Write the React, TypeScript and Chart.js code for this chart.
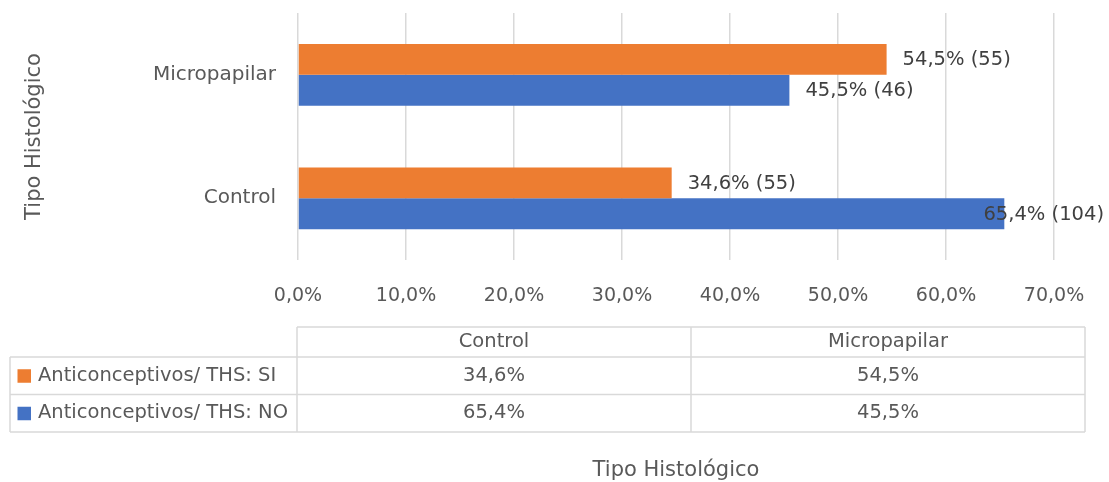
import React, { useEffect, useRef } from "react";
import { Chart, registerables } from "chart.js";

Chart.register(...registerables);

// ---- data ----
const categories = ["Control", "Micropapilar"];
const seriesNames = ["Anticonceptivos/ THS: SI", "Anticonceptivos/ THS: NO"];
const siValues = [34.6, 54.5];
const noValues = [65.4, 45.5];
const siCounts = [55, 55];
const noCounts = [104, 46];
const xMin = 0;
const xMax = 70;
const xStep = 10;
const axisTitle = "Tipo Histológico";
const seriesColors = ["#ED7D31", "#4472C4"];

const FONT = "'DejaVu Sans', sans-serif";
const TEXT = "#595959";
const LINE = "#d9d9d9";

const pct = (v: number) => v.toFixed(1).replace(".", ",") + "%";

export default function App() {
  const ref = useRef<HTMLCanvasElement | null>(null);

  useEffect(() => {
    document.body.style.margin = "0";
    const canvas = ref.current;
    if (!canvas) return;

    // chart draws top-to-bottom: Micropapilar first
    const order = categories.map((_, i) => i).reverse();
    const labels = order.map((i) => categories[i]);
    const values = [siValues, noValues];
    const counts = [siCounts, noCounts];

    const dataLabelPlugin = {
      id: "barLabels",
      afterDatasetsDraw(chart: any) {
        const ctx = chart.ctx;
        ctx.save();
        ctx.font = `19.5px ${FONT}`;
        ctx.fillStyle = "#404040";
        ctx.textAlign = "left";
        ctx.textBaseline = "middle";
        chart.data.datasets.forEach((ds: any, di: number) => {
          const meta = chart.getDatasetMeta(di);
          meta.data.forEach((bar: any, j: number) => {
            const ci = order[j];
            const text = `${pct(values[di][ci])} (${counts[di][ci]})`;
            const w = ctx.measureText(text).width;
            let x = bar.x + 16;
            if (x + w > chart.width - 5) x = chart.width - 5 - w;
            ctx.fillText(text, x, bar.y + 1);
          });
        });
        ctx.restore();
      },
    };

    const tablePlugin = {
      id: "dataTable",
      afterDraw(chart: any) {
        const ctx = chart.ctx;
        const ca = chart.chartArea;
        const left = 10;
        const c0 = ca.left - 1;
        const right = chart.width - 24;
        const colW = (right - c0) / categories.length;
        const h0 = ca.bottom + 67;
        const h1 = h0 + 30;
        const rowH = 37.5;
        const rows = seriesNames.length;
        const hEnd = h1 + rowH * rows;

        ctx.save();
        ctx.strokeStyle = LINE;
        ctx.lineWidth = 1.5;
        ctx.beginPath();
        ctx.moveTo(c0, h0);
        ctx.lineTo(right, h0);
        for (let r = 0; r <= rows; r++) {
          const y = h1 + rowH * r;
          ctx.moveTo(left, y);
          ctx.lineTo(right, y);
        }
        ctx.moveTo(left, h1);
        ctx.lineTo(left, hEnd);
        for (let c = 0; c <= categories.length; c++) {
          const x = c0 + colW * c;
          ctx.moveTo(x, h0);
          ctx.lineTo(x, hEnd);
        }
        ctx.stroke();

        ctx.font = `19.5px ${FONT}`;
        ctx.fillStyle = TEXT;
        ctx.textBaseline = "middle";
        ctx.textAlign = "center";
        categories.forEach((cat, c) => {
          ctx.fillText(cat, c0 + colW * (c + 0.5), (h0 + h1) / 2);
        });
        seriesNames.forEach((name, r) => {
          const yc = h1 + rowH * (r + 0.5);
          ctx.fillStyle = seriesColors[r];
          ctx.fillRect(17.5, yc - 6.5, 13.5, 13.5);
          ctx.fillStyle = TEXT;
          ctx.textAlign = "left";
          ctx.fillText(name, 38, yc);
          ctx.textAlign = "center";
          categories.forEach((_, c) => {
            ctx.fillText(pct(values[r][c]), c0 + colW * (c + 0.5), yc);
          });
        });
        ctx.restore();
      },
    };

    const chart = new Chart(canvas, {
      type: "bar",
      data: {
        labels,
        datasets: seriesNames.map((name, di) => ({
          label: name,
          data: order.map((i) => values[di][i]),
          backgroundColor: seriesColors[di],
          borderWidth: 0,
          categoryPercentage: 0.5,
          barPercentage: 1,
        })),
      },
      options: {
        indexAxis: "y",
        responsive: false,
        animation: false,
        devicePixelRatio: 1,
        layout: { padding: { top: 13, right: 55, left: 0, bottom: 0 } },
        plugins: {
          legend: { display: false },
          tooltip: { enabled: false },
        },
        scales: {
          x: {
            min: xMin,
            max: xMax,
            border: { display: false },
            grid: { color: LINE, lineWidth: 1.5, drawTicks: false },
            ticks: {
              stepSize: xStep,
              padding: 25,
              color: TEXT,
              font: { family: FONT, size: 19 },
              callback: (v: any) => pct(Number(v)),
            },
            title: {
              display: true,
              text: axisTitle,
              color: TEXT,
              font: { family: FONT, size: 21, lineHeight: 1.1 },
              padding: { top: 0, bottom: 0 },
            },
            afterFit: (scale: any) => {
              scale.height = 222;
              scale.paddingLeft = 0;
              scale.paddingRight = 0;
            },
          },
          y: {
            border: { display: false },
            grid: { display: false, drawTicks: false },
            ticks: {
              padding: 22,
              color: TEXT,
              font: { family: FONT, size: 20 },
            },
            title: {
              display: true,
              text: axisTitle,
              color: TEXT,
              font: { family: FONT, size: 21, lineHeight: 1.2 },
              padding: { top: 22, bottom: 0 },
            },
            afterFit: (scale: any) => {
              scale.width = 298;
              scale.paddingTop = 0;
              scale.paddingBottom = 0;
            },
          },
        },
      },
      plugins: [dataLabelPlugin, tablePlugin],
    });

    return () => chart.destroy();
  }, []);

  return (
    <div style={{ width: 1109, height: 482 }}>
      <canvas ref={ref} width={1109} height={482} />
    </div>
  );
}
